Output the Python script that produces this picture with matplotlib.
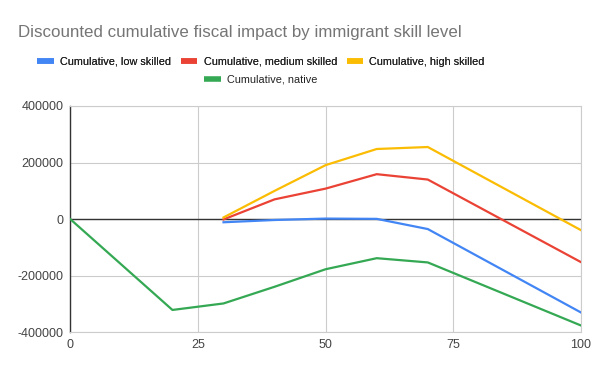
import matplotlib.pyplot as plt
from matplotlib.lines import Line2D

plt.rcParams['font.family'] = ['Liberation Sans', 'DejaVu Sans']
plt.rcParams['axes.unicode_minus'] = False

title = "Discounted cumulative fiscal impact by immigrant skill level"

imm_years = [30, 40, 50, 60, 70, 100]
low_skilled = [-11000, -3000, 2000, 1000, -35000, -330000]
medium_skilled = [-1000, 70000, 108000, 159000, 140000, -152000]
high_skilled = [6000, 100000, 191000, 248000, 255000, -39000]

native_years = [0, 20, 30, 40, 50, 60, 70, 100]
native = [0, -321000, -298000, -239000, -177000, -138000, -153000, -376000]

labels = ["Cumulative, low skilled", "Cumulative, medium skilled",
          "Cumulative, high skilled", "Cumulative, native"]
colors = ["#4285F4", "#EA4335", "#FBBC04", "#34A853"]

fig = plt.figure(figsize=(6, 3.71), dpi=100)
ax = fig.add_axes([70.3 / 600, 1 - 332.3 / 371, (581 - 70.3) / 600, (332.3 - 106) / 371])

ax.axhline(0, color="#333333", lw=1, zorder=2)
ax.plot(imm_years, low_skilled, color=colors[0], lw=1.6, zorder=3)
ax.plot(imm_years, medium_skilled, color=colors[1], lw=1.6, zorder=3)
ax.plot(imm_years, high_skilled, color=colors[2], lw=1.6, zorder=3)
ax.plot(native_years, native, color=colors[3], lw=1.6, zorder=3)

ax.set_xlim(0, 100)
ax.set_ylim(-400000, 400000)
ax.set_xticks([0, 25, 50, 75, 100])
ax.set_yticks([-400000, -200000, 0, 200000, 400000])
ax.grid(True, color="#cccccc", lw=0.8, zorder=0)
for s in ["top", "right", "bottom"]:
    ax.spines[s].set_color("#cccccc")
    ax.spines[s].set_linewidth(0.8)
ax.spines["left"].set_color("#333333")
ax.spines["left"].set_linewidth(1)
ax.tick_params(length=0, labelsize=9, labelcolor="#444444", pad=5)

fig.text(18 / 600, 1 - 32 / 371, title, fontsize=12.2, color="#757575", va="center", ha="left")

handles = [Line2D([0], [0], color=c, lw=4, solid_capstyle="butt") for c in colors]
leg_kw = dict(frameon=False, fontsize=7.8, handlelength=1.5, handletextpad=0.6,
              columnspacing=0.9, labelcolor="#222222", borderpad=0, borderaxespad=0)
leg1 = fig.legend(handles[:3], labels[:3], loc="center", bbox_to_anchor=(261 / 600, 1 - 62 / 371),
                  ncol=3, **leg_kw)
leg2 = fig.legend(handles[3:], labels[3:], loc="center", bbox_to_anchor=(261 / 600, 1 - 80 / 371),
                  ncol=1, **leg_kw)
fig.add_artist(leg1)

fig.savefig("out.png", dpi=100)
